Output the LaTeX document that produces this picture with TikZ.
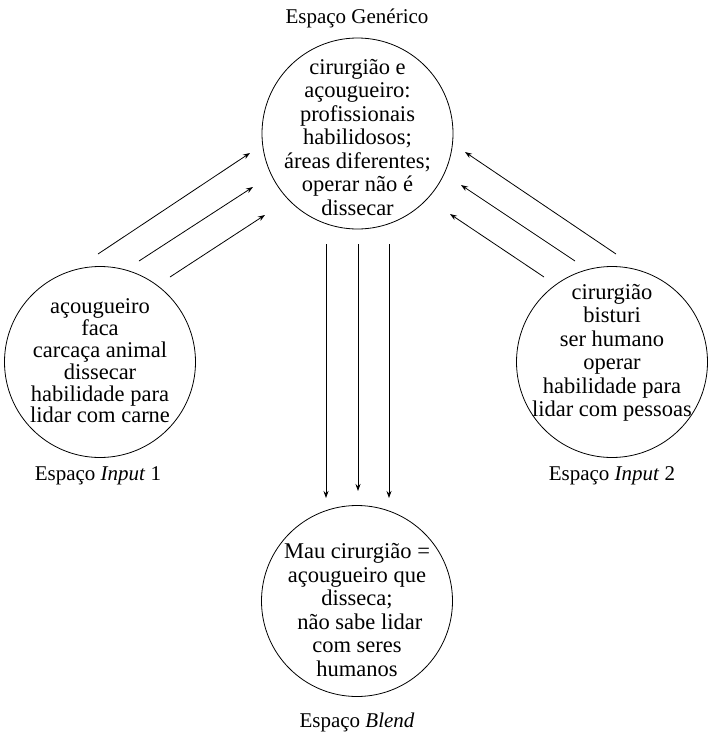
\documentclass[tikz,border=0pt]{standalone}
\usepackage{fontspec}
\setmainfont{Liberation Serif}
\usetikzlibrary{arrows.meta}
\begin{document}
\begin{tikzpicture}[x=1pt,y=-1pt,
  space/.style={draw, circle, line width=0.8pt, minimum size=191pt, inner sep=0pt},
  spacetext/.style={align=center, inner sep=0pt, font=\fontsize{22.5}{23.5}\selectfont},
  caption/.style={font=\fontsize{21}{24}\selectfont, inner sep=0pt},
  map/.style={line width=0.8pt, -{Stealth[length=7pt,width=5pt]}}]
\useasboundingbox (0,0) rectangle (708,742);

% the four mental spaces
\node[space] (gen) at (357.5,133.5) {};
\node[space] (in1) at (100,362) {};
\node[space] (in2) at (612,362) {};
\node[space] (bld) at (357,601) {};

% their contents
\node[spacetext] (tgen) at ([yshift=-4pt]gen) {cirurgião e\\açougueiro:\\profissionais\\habilidosos;\\áreas diferentes;\\operar não é\\dissecar};
\node[spacetext, font=\fontsize{22.5}{21.8}\selectfont] (tin1) at ([yshift=1pt]in1) {açougueiro\\faca\\carcaça animal\\dissecar\\habilidade para\\lidar com carne};
\node[spacetext] (tin2) at ([yshift=9pt]in2) {cirurgião\\bisturi\\ser humano\\operar\\habilidade para\\lidar com pessoas};
\node[spacetext] (tbld) at ([yshift=-9pt]bld) {Mau cirurgião =\\açougueiro que\\disseca;\\\hspace*{0.25em}não sabe lidar\\com seres\\humanos};

% captions
\node[caption] (cgen) at (357,18) {Espaço Genérico};
\node[caption] (cin1) at (98,476) {Espaço \textit{Input} 1};
\node[caption] (cin2) at (612,476) {Espaço \textit{Input} 2};
\node[caption] (cbld) at (357,722) {Espaço \textit{Blend}};

% end points of the projection arrows
\coordinate (l1s) at (98,254);  \coordinate (l1e) at (250,153);
\coordinate (l2s) at (139,261); \coordinate (l2e) at (253,187);
\coordinate (l3s) at (170,277); \coordinate (l3e) at (265,215);
\coordinate (r1s) at (616,254); \coordinate (r1e) at (465,152);
\coordinate (r2s) at (575,261); \coordinate (r2e) at (461,185);
\coordinate (r3s) at (544,277); \coordinate (r3e) at (450,214);
\coordinate (d1s) at (326,244); \coordinate (d1e) at (326,498);
\coordinate (d2s) at (358,244); \coordinate (d2e) at (358,491);
\coordinate (d3s) at (389,244); \coordinate (d3e) at (389,498);

% input 1 -> generic
\draw[map] (l1s) -- (l1e);
\draw[map] (l2s) -- (l2e);
\draw[map] (l3s) -- (l3e);
% input 2 -> generic
\draw[map] (r1s) -- (r1e);
\draw[map] (r2s) -- (r2e);
\draw[map] (r3s) -- (r3e);
% generic -> blend
\draw[map] (d1s) -- (d1e);
\draw[map] (d2s) -- (d2e);
\draw[map] (d3s) -- (d3e);
\end{tikzpicture}
\end{document}
